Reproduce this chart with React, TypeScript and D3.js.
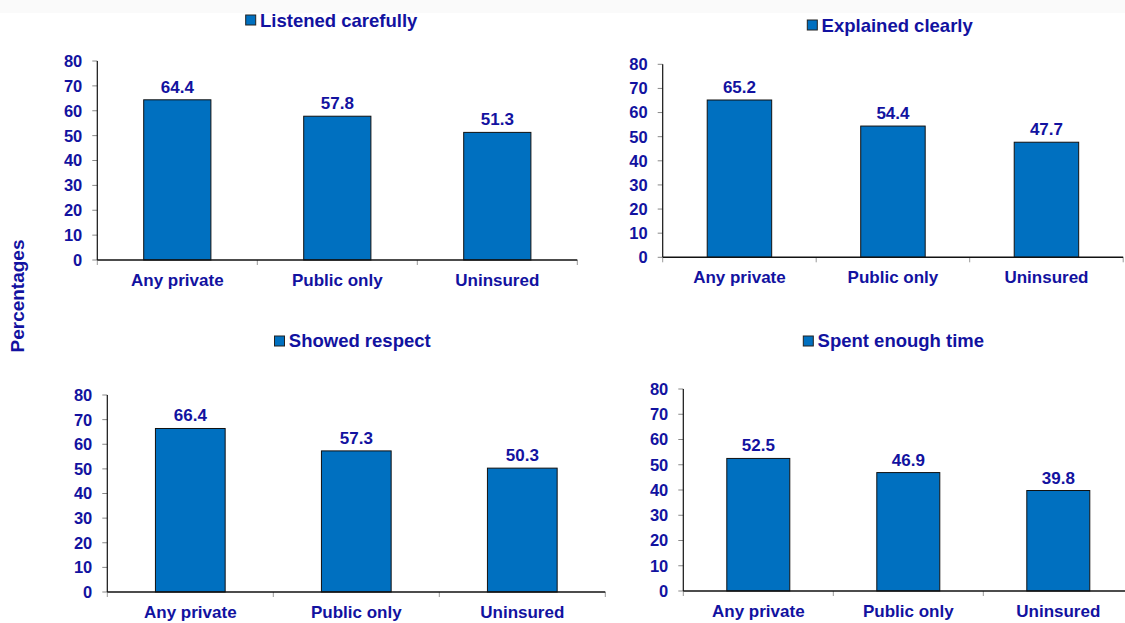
import React from "react";
import * as d3 from "d3";

// Insurance categories shared by every panel
const categories: string[] = ["Any private", "Public only", "Uninsured"];

// Percent of respondents reporting each provider behaviour
const listenedCarefully: number[] = [64.4, 57.8, 51.3];
const explainedClearly: number[] = [65.2, 54.4, 47.7];
const showedRespect: number[] = [66.4, 57.3, 50.3];
const spentEnoughTime: number[] = [52.5, 46.9, 39.8];

const panelTitles: string[] = [
  "Listened carefully",
  "Explained clearly",
  "Showed respect",
  "Spent enough time",
];

const yTickValues: number[] = [0, 10, 20, 30, 40, 50, 60, 70, 80];
const yAxisTitle = "Percentages";

const series: number[][] = [listenedCarefully, explainedClearly, showedRespect, spentEnoughTime];

// Plot frames for the 2x2 grid
interface Frame {
  left: number; // y-axis x position
  right: number; // end of category axis
  top: number; // pixel of y=80
  bottom: number; // pixel of y=0
  catBaseline: number;
  legendX: number;
  legendY: number;
  titleBaseline: number;
}

const frames: Frame[] = [
  { left: 97.3, right: 577.3, top: 61, bottom: 260, catBaseline: 286, legendX: 245.7, legendY: 15, titleBaseline: 26.5 },
  { left: 662.7, right: 1123.2, top: 64.3, bottom: 257.3, catBaseline: 282.7, legendX: 807.3, legendY: 20, titleBaseline: 32 },
  { left: 107.3, right: 605.3, top: 395, bottom: 592, catBaseline: 618, legendX: 274.5, legendY: 336, titleBaseline: 347 },
  { left: 683.3, right: 1133.3, top: 389, bottom: 591, catBaseline: 616.7, legendX: 803.3, legendY: 336, titleBaseline: 346.7 },
];

const BAR = "#0070C0";
const TEXT = "#1212A0";
const FONT = "'Liberation Sans', Arial, sans-serif";

function Panel({ frame, values, title }: { frame: Frame; values: number[]; title: string }) {
  const x = d3
    .scaleBand<string>()
    .domain(categories)
    .range([frame.left, frame.right])
    .paddingInner(0.58)
    .paddingOuter(0.29);
  const y = d3.scaleLinear().domain([0, 80]).range([frame.bottom, frame.top]);
  const step = x.step();
  const boundaries = d3.range(categories.length + 1).map((i) => frame.left + i * step);

  return (
    <g>
      {/* legend-style title */}
      <rect
        x={frame.legendX}
        y={frame.legendY}
        width={10}
        height={10}
        fill={BAR}
        stroke="#222"
        strokeWidth={1}
      />
      <text
        x={frame.legendX + 14.3}
        y={frame.titleBaseline}
        fill={TEXT}
        fontFamily={FONT}
        fontWeight="bold"
        fontSize={18.5}
      >
        {title}
      </text>

      {/* bars */}
      {values.map((v, i) => (
        <rect
          key={categories[i]}
          x={x(categories[i])!}
          y={y(v)}
          width={x.bandwidth()}
          height={y(0) - y(v)}
          fill={BAR}
          stroke="#111"
          strokeWidth={1}
        />
      ))}

      {/* value labels */}
      {values.map((v, i) => (
        <text
          key={"v" + categories[i]}
          x={x(categories[i])! + x.bandwidth() / 2}
          y={y(v) - 7}
          textAnchor="middle"
          fill={TEXT}
          fontFamily={FONT}
          fontWeight="bold"
          fontSize={17}
        >
          {v.toFixed(1)}
        </text>
      ))}

      {/* y axis */}
      {yTickValues.map((t) => (
        <g key={"t" + t}>
          <line x1={frame.left - 5} x2={frame.left} y1={y(t)} y2={y(t)} stroke="#888" strokeWidth={1} />
          <text
            x={frame.left - 15}
            y={y(t)}
            dy="0.36em"
            textAnchor="end"
            fill={TEXT}
            fontFamily={FONT}
            fontWeight="bold"
            fontSize={16.5}
          >
            {t}
          </text>
        </g>
      ))}
      <line x1={frame.left} x2={frame.left} y1={y(80)} y2={y(0)} stroke="#111" strokeWidth={1.2} />

      {/* category axis */}
      {boundaries.map((bx, i) => (
        <line key={"b" + i} x1={bx} x2={bx} y1={y(0)} y2={y(0) + 5} stroke="#999" strokeWidth={1} />
      ))}
      <line x1={frame.left} x2={frame.right} y1={y(0)} y2={y(0)} stroke="#111" strokeWidth={1.5} />
      {categories.map((c) => (
        <text
          key={"c" + c}
          x={x(c)! + x.bandwidth() / 2}
          y={frame.catBaseline}
          textAnchor="middle"
          fill={TEXT}
          fontFamily={FONT}
          fontWeight="bold"
          fontSize={17}
        >
          {c}
        </text>
      ))}
    </g>
  );
}

export default function App() {
  return (
    <svg
      width={1125}
      height={623}
      style={{ position: "absolute", left: 0, top: 0, background: "#fff" }}
    >
      <rect x={0} y={0} width={1125} height={623} fill="#ffffff" />
      <rect x={0} y={0} width={1125} height={13} fill="#fafafa" />
      {frames.map((f, i) => (
        <Panel key={panelTitles[i]} frame={f} values={series[i]} title={panelTitles[i]} />
      ))}
      <text
        transform="translate(24,296) rotate(-90)"
        textAnchor="middle"
        fill={TEXT}
        fontFamily={FONT}
        fontWeight="bold"
        fontSize={19}
      >
        {yAxisTitle}
      </text>
    </svg>
  );
}
